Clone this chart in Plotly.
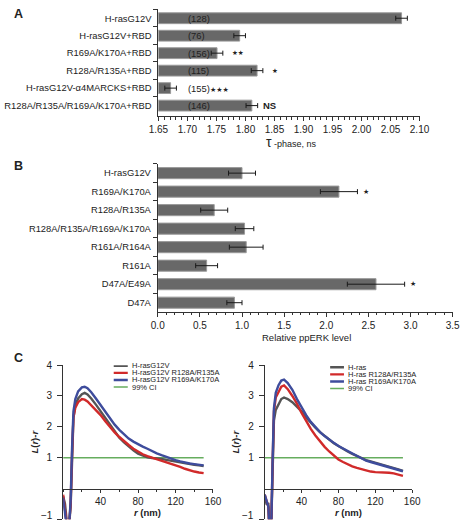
import plotly.graph_objects as go

W, H = 471, 523

# ---------------- Panel A data ----------------
a_labels = ["H-rasG12V", "H-rasG12V+RBD", "R169A/K170A+RBD", "R128A/R135A+RBD",
            "H-rasG12V-α4MARCKS+RBD", "R128A/R135A/R169A/K170A+RBD"]
a_values = [2.069, 1.790, 1.751, 1.820, 1.671, 1.811]
a_errors = [0.010, 0.010, 0.010, 0.010, 0.010, 0.010]
a_counts = ["(128)", "(76)", "(156)", "(115)", "(155)", "(146)"]
a_marks = ["", "", "★★", "★", "★★★", "NS"]
a_ticks = [1.65, 1.70, 1.75, 1.80, 1.85, 1.90, 1.95, 2.00, 2.05, 2.10]

# ---------------- Panel B data ----------------
b_labels = ["H-rasG12V", "R169A/K170A", "R128A/R135A", "R128A/R135A/R169A/K170A",
            "R161A/R164A", "R161A", "D47A/E49A", "D47A"]
b_values = [1.00, 2.15, 0.67, 1.03, 1.05, 0.58, 2.59, 0.91]
b_errors = [0.16, 0.22, 0.16, 0.11, 0.20, 0.13, 0.34, 0.09]
b_marks = ["", "★", "", "", "", "", "★", ""]
b_ticks = [0.0, 0.5, 1.0, 1.5, 2.0, 2.5, 3.0, 3.5]

# ---------------- Panel C data (left) ----------------
c_r = [0, 2, 4, 6, 8, 9.5, 11, 13, 16, 20, 23, 26, 30, 35, 40, 45, 50, 55, 60, 65, 70,
       75, 80, 85, 90, 95, 100, 105, 110, 115, 120, 125, 130, 135, 140, 145, 150]
cl_gray = [-0.25, -0.5, -1.1, -1.3, -0.6, 1.0, 2.3, 2.7, 2.92, 3.06, 3.1, 3.05, 2.92, 2.72, 2.5,
           2.27, 2.05, 1.84, 1.65, 1.5, 1.36, 1.24, 1.13, 1.06, 1.01, 0.99, 0.98, 0.96, 0.93,
           0.9, 0.87, 0.84, 0.81, 0.79, 0.77, 0.75, 0.73]
cl_red = [-0.2, -0.6, -1.2, -1.3, -0.5, 1.1, 2.3, 2.62, 2.8, 2.9, 2.88, 2.82, 2.7, 2.55, 2.38,
          2.18, 1.99, 1.82, 1.67, 1.53, 1.41, 1.29, 1.19, 1.11, 1.05, 1.0, 0.96, 0.92, 0.87,
          0.82, 0.76, 0.7, 0.64, 0.59, 0.55, 0.52, 0.5]
cl_blue = [-0.3, -0.7, -1.3, -1.4, -0.4, 1.3, 2.5, 2.9, 3.15, 3.28, 3.3, 3.25, 3.12, 2.92, 2.7,
           2.47, 2.27, 2.07, 1.9, 1.75, 1.62, 1.52, 1.43, 1.36, 1.29, 1.21, 1.14, 1.08, 1.02,
           0.97, 0.92, 0.88, 0.84, 0.81, 0.79, 0.77, 0.75]

# ---------------- Panel C data (right) ----------------
cr_r = [0, 2, 4, 5, 7, 8.5, 10, 12, 15, 18, 21, 25, 30, 35, 40, 45, 50, 55, 60, 65, 70,
        75, 80, 85, 90, 95, 100, 105, 110, 115, 120, 125, 130, 135, 140, 145, 150]
cr_gray = [-0.3, -0.5, -0.5, -1.2, -1.3, 0.5, 2.2, 2.55, 2.75, 2.9, 2.95, 2.9, 2.8, 2.65, 2.5,
           2.3, 2.12, 1.97, 1.83, 1.7, 1.58, 1.47, 1.38, 1.28, 1.2, 1.12, 1.05, 0.98, 0.92,
           0.88, 0.84, 0.8, 0.76, 0.72, 0.67, 0.62, 0.57]
cr_red = [-0.2, -0.4, -0.6, -1.3, -1.4, 0.7, 2.5, 2.95, 3.15, 3.3, 3.34, 3.22, 3.0, 2.75, 2.45,
          2.18, 1.93, 1.72, 1.52, 1.35, 1.2, 1.06, 0.94, 0.86, 0.78, 0.72, 0.67, 0.63, 0.58,
          0.55, 0.53, 0.53, 0.52, 0.51, 0.49, 0.45, 0.41]
cr_blue = [-0.2, -0.4, -0.6, -1.3, -1.4, 0.8, 2.6, 3.1, 3.35, 3.5, 3.53, 3.42, 3.2, 2.9, 2.62,
           2.38, 2.16, 1.98, 1.83, 1.7, 1.58, 1.48, 1.38, 1.3, 1.2, 1.12, 1.04, 0.97, 0.9,
           0.86, 0.82, 0.78, 0.74, 0.7, 0.66, 0.61, 0.56]
ci_r = [0, 150]
ci_y = [1, 1]

left_names = ["H-rasG12V", "H-rasG12V R128A/R135A", "H-rasG12V R169A/K170A", "99% CI"]
right_names = ["H-ras", "H-ras R128A/R135A", "H-ras R169A/K170A", "99% CI"]
c_xticks = [40, 80, 120, 160]
c_yticks = [-1, 1, 2, 3, 4]
c_yticktext = ["−1", "1", "2", "3", "4"]

# ---------------- styling ----------------
FONT = "Liberation Sans, Arial, sans-serif"
TXT = "#222222"
BAR_FILL = "#686868"
BAR_LINE = "#9a9a9a"
COLS = ["#555555", "#d12a2a", "#3e4c9c", "#66ad5e"]


def px_x(p):
    return p / W


def px_y(p):
    return 1 - p / H


fig = go.Figure()

# Panel A bars
fig.add_trace(go.Bar(
    x=a_values, y=a_labels, orientation="h", xaxis="x", yaxis="y",
    marker=dict(color=BAR_FILL, line=dict(color=BAR_LINE, width=1)), width=0.62,
    error_x=dict(type="data", array=a_errors, color="#1a1a1a", thickness=1, width=2.5),
    showlegend=False, hoverinfo="skip"))

# Panel B bars
fig.add_trace(go.Bar(
    x=b_values, y=b_labels, orientation="h", xaxis="x2", yaxis="y2",
    marker=dict(color=BAR_FILL, line=dict(color=BAR_LINE, width=1)), width=0.6,
    error_x=dict(type="data", array=b_errors, color="#1a1a1a", thickness=1, width=2.5),
    showlegend=False, hoverinfo="skip"))

# Panel C lines
for xa, ya, rr, series in (("x3", "y3", c_r, [cl_gray, cl_red, cl_blue]),
                          ("x4", "y4", cr_r, [cr_gray, cr_red, cr_blue])):
    fig.add_trace(go.Scatter(x=ci_r, y=ci_y, mode="lines", xaxis=xa, yaxis=ya,
                             line=dict(color=COLS[3], width=1.5), showlegend=False,
                             hoverinfo="skip"))
    for s, col in zip(series, COLS[:3]):
        fig.add_trace(go.Scatter(x=rr, y=s, mode="lines", xaxis=xa, yaxis=ya,
                                 line=dict(color=col, width=2.4), showlegend=False,
                                 hoverinfo="skip"))

axis_common = dict(showline=True, linecolor="#333333", linewidth=1, showgrid=False,
                   zeroline=False, ticks="outside", tickcolor="#333333", tickwidth=1,
                   tickfont=dict(family=FONT, size=10, color=TXT))

# domains
a_x_dom = [px_x(155), px_x(427.7)]
a_y_dom = [px_y(111.7), px_y(3)]
b_x_dom = [px_x(154.3), px_x(462.3)]
b_y_dom = [px_y(309.5), px_y(159.7)]
cl_x_dom = [px_x(55.5), px_x(212)]
cr_x_dom = [px_x(266), px_x(420)]
c_y_dom = [px_y(519.3), px_y(363.3)]
c_zero_pos = c_y_dom[0] + 0.2 * (c_y_dom[1] - c_y_dom[0])

c_ytitle = dict(text="<b><i>L</i>(<i>r</i>)-<i>r</i></b>", standoff=6,
                font=dict(family=FONT, size=9.5, color=TXT))
# the lowest tick label sits on the figure edge; it is drawn as an annotation below
c_ytick_shown = [""] + c_yticktext[1:]

fig.update_layout(
    width=W, height=H, margin=dict(l=0, r=0, t=0, b=0),
    paper_bgcolor="white", plot_bgcolor="white",
    font=dict(family=FONT, color=TXT),
    xaxis=dict(domain=a_x_dom, range=[1.65, 2.10], anchor="y", tickvals=a_ticks,
               ticktext=[f"{v:.2f}" for v in a_ticks], ticklen=4,
               minor=dict(dtick=0.01, tick0=1.65, ticks="outside", ticklen=2.5,
                          tickcolor="#333333", showgrid=False),
               **axis_common),
    yaxis=dict(domain=a_y_dom, type="category", categoryorder="array",
               categoryarray=a_labels, range=[5.62, -0.53], anchor="x",
               tickson="boundaries", ticklen=4, ticklabelstandoff=4, **{**axis_common,
               "tickfont": dict(family=FONT, size=9.4, color=TXT)}),
    xaxis2=dict(domain=b_x_dom, range=[0, 3.5], anchor="y2", tickvals=b_ticks,
                ticktext=[f"{v:.1f}" for v in b_ticks], ticklen=4,
                minor=dict(dtick=0.1, tick0=0, ticks="outside", ticklen=2.5,
                           tickcolor="#333333", showgrid=False),
                **axis_common),
    yaxis2=dict(domain=b_y_dom, type="category", categoryorder="array",
                categoryarray=b_labels, range=[7.5, -0.5], anchor="x2",
                tickson="boundaries", ticklen=4, ticklabelstandoff=4, **{**axis_common,
                "tickfont": dict(family=FONT, size=9.4, color=TXT)}),
    xaxis3=dict(domain=cl_x_dom, range=[0, 160], anchor="free", position=c_zero_pos,
                tickvals=c_xticks, ticklen=3,
                minor=dict(dtick=20, tick0=0, ticks="outside", ticklen=2,
                           tickcolor="#333333", showgrid=False),
                **axis_common),
    yaxis3=dict(domain=c_y_dom, range=[-1, 4], anchor="x3", tickvals=c_yticks,
                ticktext=c_ytick_shown, ticklen=5, ticklabelstandoff=3, title=c_ytitle,
                **axis_common),
    xaxis4=dict(domain=cr_x_dom, range=[0, 160], anchor="free", position=c_zero_pos,
                tickvals=c_xticks, ticklen=3,
                minor=dict(dtick=20, tick0=0, ticks="outside", ticklen=2,
                           tickcolor="#333333", showgrid=False),
                **axis_common),
    yaxis4=dict(domain=c_y_dom, range=[-1, 4], anchor="x4", tickvals=c_yticks,
                ticktext=c_ytick_shown, ticklen=5, ticklabelstandoff=3, title=c_ytitle,
                **axis_common),
)

ann = []


def paper_text(text, x, y, size=9.5, xanchor="center", yanchor="middle"):
    ann.append(dict(text=text, x=px_x(x), y=px_y(y), xref="paper", yref="paper",
                    showarrow=False, xanchor=xanchor, yanchor=yanchor,
                    font=dict(family=FONT, size=size, color=TXT)))


# panel letters
paper_text("<b>A</b>", 2, 8, size=12.5, xanchor="left")
paper_text("<b>B</b>", 2, 162, size=12.5, xanchor="left")
paper_text("<b>C</b>", 2, 356, size=12.5, xanchor="left")

# axis titles
paper_text("<span style='font-size:14px'>τ</span> -phase, ns", 294, 138, size=9)
paper_text("Relative ppERK level", 310, 335, size=9.5)
paper_text("<b><i>r</i> (nm)</b>", 144, 512.5, size=9.5)
paper_text("<b><i>r</i> (nm)</b>", 353, 512, size=9.5)

# lowest y tick label of the two C panels, kept inside the figure
for ax_px in (55.5, 266):
    ann.append(dict(text=c_yticktext[0], x=px_x(ax_px - 9), y=0, xref="paper", yref="paper",
                    showarrow=False, xanchor="right", yanchor="bottom",
                    font=dict(family=FONT, size=10, color=TXT)))

# panel A counts and marks
a_px = (2.10 - 1.65) / (427.7 - 155)  # data units per pixel
count_x = 1.65 + 29 * a_px
count_end = 1.65 + 52 * a_px
for lab, v, e, n, m in zip(a_labels, a_values, a_errors, a_counts, a_marks):
    star_style = "<span style='font-size:7px;font-family:DejaVu Sans'>%s</span>"
    if v + e < count_end:
        text = n + (star_style % m if m else "")
        ann.append(dict(text=text, x=count_x, y=lab, xref="x", yref="y", showarrow=False,
                        xanchor="left", font=dict(family=FONT, size=9.4, color=TXT)))
        continue
    ann.append(dict(text=n, x=count_x, y=lab, xref="x", yref="y", showarrow=False,
                    xanchor="left", font=dict(family=FONT, size=9.4, color=TXT)))
    if m == "NS":
        ann.append(dict(text="<b>NS</b>", x=v + e + 3 * a_px, y=lab, xref="x", yref="y",
                        showarrow=False, xanchor="left",
                        font=dict(family=FONT, size=9.5, color=TXT)))
    elif m:
        ann.append(dict(text=m, x=v + e + 7 * a_px, y=lab, xref="x", yref="y",
                        showarrow=False, xanchor="left",
                        font=dict(family="DejaVu Sans", size=6.5, color=TXT)))

# panel B marks
b_px = 3.5 / (462.3 - 154.3)
for lab, v, e, m in zip(b_labels, b_values, b_errors, b_marks):
    if m:
        ann.append(dict(text=m, x=v + e + 8.5 * b_px, y=lab, xref="x2", yref="y2",
                        showarrow=False, xanchor="center",
                        font=dict(family="DejaVu Sans", size=7, color=TXT)))

# panel C legends (drawn as line samples + text)
shapes = []
leg_rows_l = [3.98, 3.75, 3.52, 3.29]
leg_rows_r = [3.93, 3.70, 3.47, 3.24]
for xa, ya, names, rows, x0, x1 in (("x3", "y3", left_names, leg_rows_l, 54, 69),
                                     ("x4", "y4", right_names, leg_rows_r, 71, 86)):
    for name, col, yy in zip(names, [COLS[0], COLS[1], COLS[2], COLS[3]], rows):
        shapes.append(dict(type="line", xref=xa, yref=ya, x0=x0, x1=x1, y0=yy, y1=yy,
                           line=dict(color=col, width=2.4 if col != COLS[3] else 1.5)))
        ann.append(dict(text=name, x=x1 + 2, y=yy, xref=xa, yref=ya, showarrow=False,
                        xanchor="left", yanchor="middle",
                        font=dict(family=FONT, size=7.5, color=TXT)))

fig.update_layout(annotations=ann, shapes=shapes)
fig.write_html("out.html", config={"displayModeBar": False},
               post_script="document.body.style.margin='0';document.body.style.padding='0';"
                           "document.documentElement.style.overflow='hidden';")
